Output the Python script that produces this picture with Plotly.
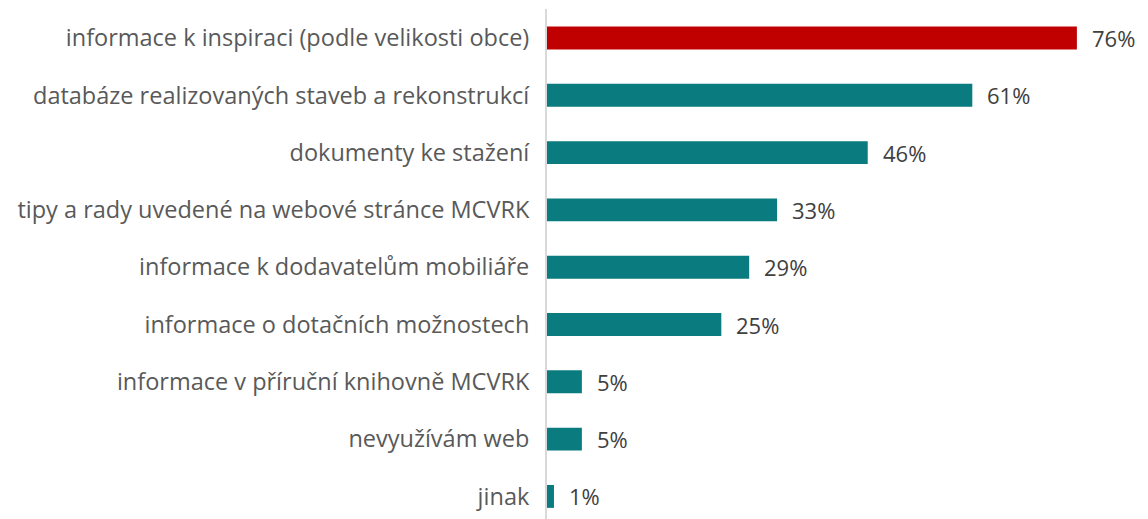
import plotly.graph_objects as go

categories = [
    "informace k inspiraci (podle velikosti obce)",
    "databáze realizovaných staveb a rekonstrukcí",
    "dokumenty ke stažení",
    "tipy a rady uvedené na webové stránce MCVRK",
    "informace k dodavatelům mobiliáře",
    "informace o dotačních možnostech",
    "informace v příruční knihovně MCVRK",
    "nevyužívám web",
    "jinak",
]
values = [76, 61, 46, 33, 29, 25, 5, 5, 1]
colors = ["#C00000"] + ["#0A7B7F"] * 8

FONT = "Open Sans"

fig = go.Figure()
fig.add_trace(go.Bar(
    y=categories, x=values, orientation="h",
    marker=dict(color=colors, line=dict(width=0)),
    width=0.4,
    hoverinfo="skip",
))
for c, v in zip(categories, values):
    fig.add_annotation(
        x=v, y=c, text=f"{v}%", showarrow=False,
        xanchor="left", yanchor="middle", xshift=13,
        font=dict(family=FONT, size=22, color="#404040"),
    )
fig.update_layout(
    width=1140, height=511,
    margin=dict(l=539, r=0, t=1, b=0),
    paper_bgcolor="white", plot_bgcolor="white",
    showlegend=False,
)
fig.update_xaxes(range=[0, 86.2], visible=False)
fig.update_yaxes(
    range=[8.394, -0.506],
    showline=True, linecolor="#D9D9D9", linewidth=2,
    ticks="", ticklabelstandoff=11,
    tickfont=dict(family=FONT, size=23.5, color="#595959"),
    showgrid=False, automargin=False,
)
fig.write_html("out.html")
